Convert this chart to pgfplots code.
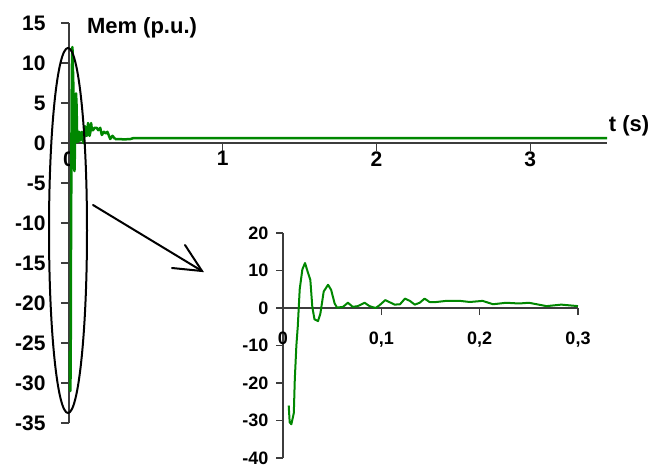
\documentclass[border=0pt]{standalone}
\usepackage{fontspec}
\setmainfont{Liberation Sans}
\usepackage{pgfplots}
\usepackage{pgfplotstable}
\pgfplotsset{compat=1.18}
\definecolor{mygreen}{RGB}{0,135,0}
\definecolor{axgray}{RGB}{60,60,60}

\pgfplotstableread{
t v
0.0058 -26
0.0068 -30.5
0.0085 -31
0.011 -28
0.012 -19
0.0136 -10
0.015 -5
0.017 5
0.0197 10.3
0.0224 12
0.0254 9.4
0.0278 7.5
0.0298 0.3
0.032 -3
0.0356 -3.5
0.038 -1.5
0.0414 4.4
0.0458 6.2
0.049 4.8
0.0525 1.2
0.055 0.1
0.061 0.3
0.066 1.4
0.071 0.3
0.076 0.5
0.083 1.4
0.088 0.5
0.094 0.0
0.098 0.7
0.104 2.1
0.108 1.6
0.1136 0.9
0.119 1.0
0.124 2.5
0.129 1.9
0.134 0.9
0.139 1.4
0.144 2.5
0.149 1.6
0.156 1.6
0.166 1.9
0.180 1.9
0.190 1.6
0.203 1.9
0.2136 1.0
0.227 1.4
0.240 1.2
0.250 1.4
0.268 0.5
0.283 0.9
0.300 0.5
}\insetdata

\pgfplotstableread{
t v
0.300 0.5
0.32 0.5
0.36 0.45
0.40 0.5
0.42 0.62
3.5 0.6
}\taildata

\begin{document}
\begin{tikzpicture}[x=1pt,y=1pt]
\useasboundingbox (0,0) rectangle (653,464);
% main axis
\begin{axis}[
  at={(69pt,41pt)}, anchor=south west,
  scale only axis, width=538pt, height=400pt,
  xmin=0, xmax=3.5, ymin=-35, ymax=15,
  axis x line=middle, axis y line=left,
  axis line style={axgray, line width=2pt, -},
  xtick={0,1,2,3}, xticklabels={0,1,2,3},
  ytick={-35,-30,-25,-20,-15,-10,-5,0,5,10,15},
  yticklabels={-35,-30,-25,-20,-15,-10,-5,0,5,10,15},
  hide obscured x ticks=false, hide obscured y ticks=false,
  tick align=outside, major tick length=8pt,
  tick style={axgray, line width=1.2pt},
  ticklabel style={font=\fontsize{21}{24}\selectfont\bfseries},
  xticklabel style={anchor=north, yshift=3pt},
  yticklabel style={anchor=east, xshift=-12pt},
  clip=false,
]
\addplot[mygreen, line width=2.5pt, line join=round] table[x=t,y=v] {\insetdata};
\addplot[mygreen, line width=2.5pt, line join=round] table[x=t,y=v] {\taildata};
\end{axis}
% inset axis
\begin{axis}[
  at={(283pt,6pt)}, anchor=south west,
  scale only axis, width=295pt, height=225pt,
  xmin=0, xmax=0.3, ymin=-40, ymax=20,
  axis x line=middle, axis y line=left,
  axis line style={axgray, line width=1.5pt, -},
  xtick={0,0.1,0.2,0.3}, xticklabels={0,{0,1},{0,2},{0,3}},
  ytick={-40,-30,-20,-10,0,10,20},
  yticklabels={-40,-30,-20,-10,0,10,20},
  hide obscured x ticks=false, hide obscured y ticks=false,
  tick align=outside, major tick length=7pt,
  tick style={axgray, line width=1.2pt},
  ticklabel style={font=\fontsize{18}{22}\selectfont\bfseries},
  xticklabel style={anchor=north, yshift=-13pt},
  yticklabel style={anchor=east, xshift=-4pt},
  clip=false,
]
\addplot[mygreen, line width=2pt, line join=round] table[x=t,y=v] {\insetdata};
\end{axis}
% annotations
\node[font=\fontsize{22}{26}\selectfont\bfseries] at (142,436) {Mem (p.u.)};
\node[font=\fontsize{22}{26}\selectfont\bfseries] at (629,338) {t (s)};
\draw[black, line width=2pt] (68,233.5) ellipse [x radius=19, y radius=182.5];
\draw[black, line width=2pt, line cap=round] (93,259) -- (202,193);
\draw[black, line width=2pt, line cap=round] (172,196) -- (202,193) -- (185,219);
\end{tikzpicture}
\end{document}
